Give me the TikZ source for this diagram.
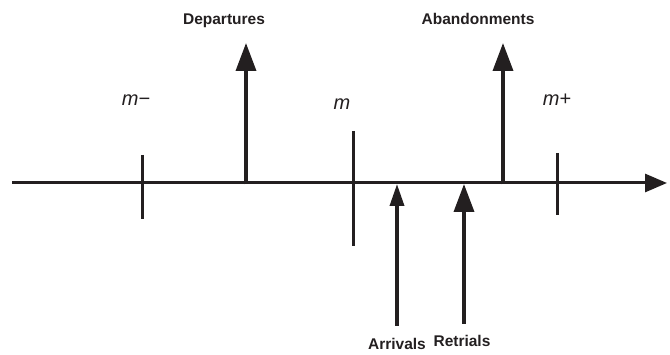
\documentclass[tikz,border=0pt]{standalone}
\usepackage{fontspec}
\setmainfont{Liberation Sans}
\usetikzlibrary{arrows.meta}
\definecolor{ink}{HTML}{231F20}
\tikzset{
  axisline/.style={draw=ink, line width=3pt},
  tickline/.style={draw=ink, line width=3pt},
  bigarrow/.style={draw=ink, line width=3.5pt, -{Triangle[length=28pt,width=20pt]}},
  smallarrow/.style={draw=ink, line width=3.5pt, -{Triangle[length=22pt,width=14pt]}},
  evlabel/.style={text=ink, font=\fontsize{15.5}{18}\selectfont\bfseries, inner sep=0pt},
  mlabel/.style={text=ink, font=\fontsize{20}{24}\selectfont\itshape, inner sep=0pt},
}
\begin{document}
\begin{tikzpicture}[x=1pt,y=-1pt]
\useasboundingbox (0,0) rectangle (670,355);
% main axis
\coordinate (axs) at (12,183);
\coordinate (axe) at (667,183);
\draw[axisline, -{Triangle[length=22pt,width=18pt]}] (axs) -- (axe);
% ticks
\coordinate (t1a) at (142,155); \coordinate (t1b) at (142,219);
\coordinate (t2a) at (353,131); \coordinate (t2b) at (353,246);
\coordinate (t3a) at (557,153); \coordinate (t3b) at (557,215);
\draw[tickline] (t1a) -- (t1b);
\draw[tickline] (t2a) -- (t2b);
\draw[tickline] (t3a) -- (t3b);
% period labels
\node[mlabel] (mminus) at (136,100) {m−};
\node[mlabel] (mmid) at (342,104) {m};
\node[mlabel] (mplus) at (557,100) {m+};
% upward events
\coordinate (d0) at (246,184.5); \coordinate (d1) at (246,43);
\coordinate (b0) at (503,184.5); \coordinate (b1) at (503,43);
\draw[bigarrow] (d0) -- (d1);
\draw[bigarrow] (b0) -- (b1);
\node[evlabel] (dep) at (224,21) {Departures};
\node[evlabel] (aba) at (478,19) {Abandonments};
% incoming events
\coordinate (a0) at (397,326); \coordinate (a1) at (397,184);
\coordinate (r0) at (464,324); \coordinate (r1) at (464,184);
\draw[smallarrow] (a0) -- (a1);
\draw[bigarrow] (r0) -- (r1);
\node[evlabel] (arr) at (397,344) {Arrivals};
\node[evlabel] (ret) at (462,341) {Retrials};
\end{tikzpicture}
\end{document}
